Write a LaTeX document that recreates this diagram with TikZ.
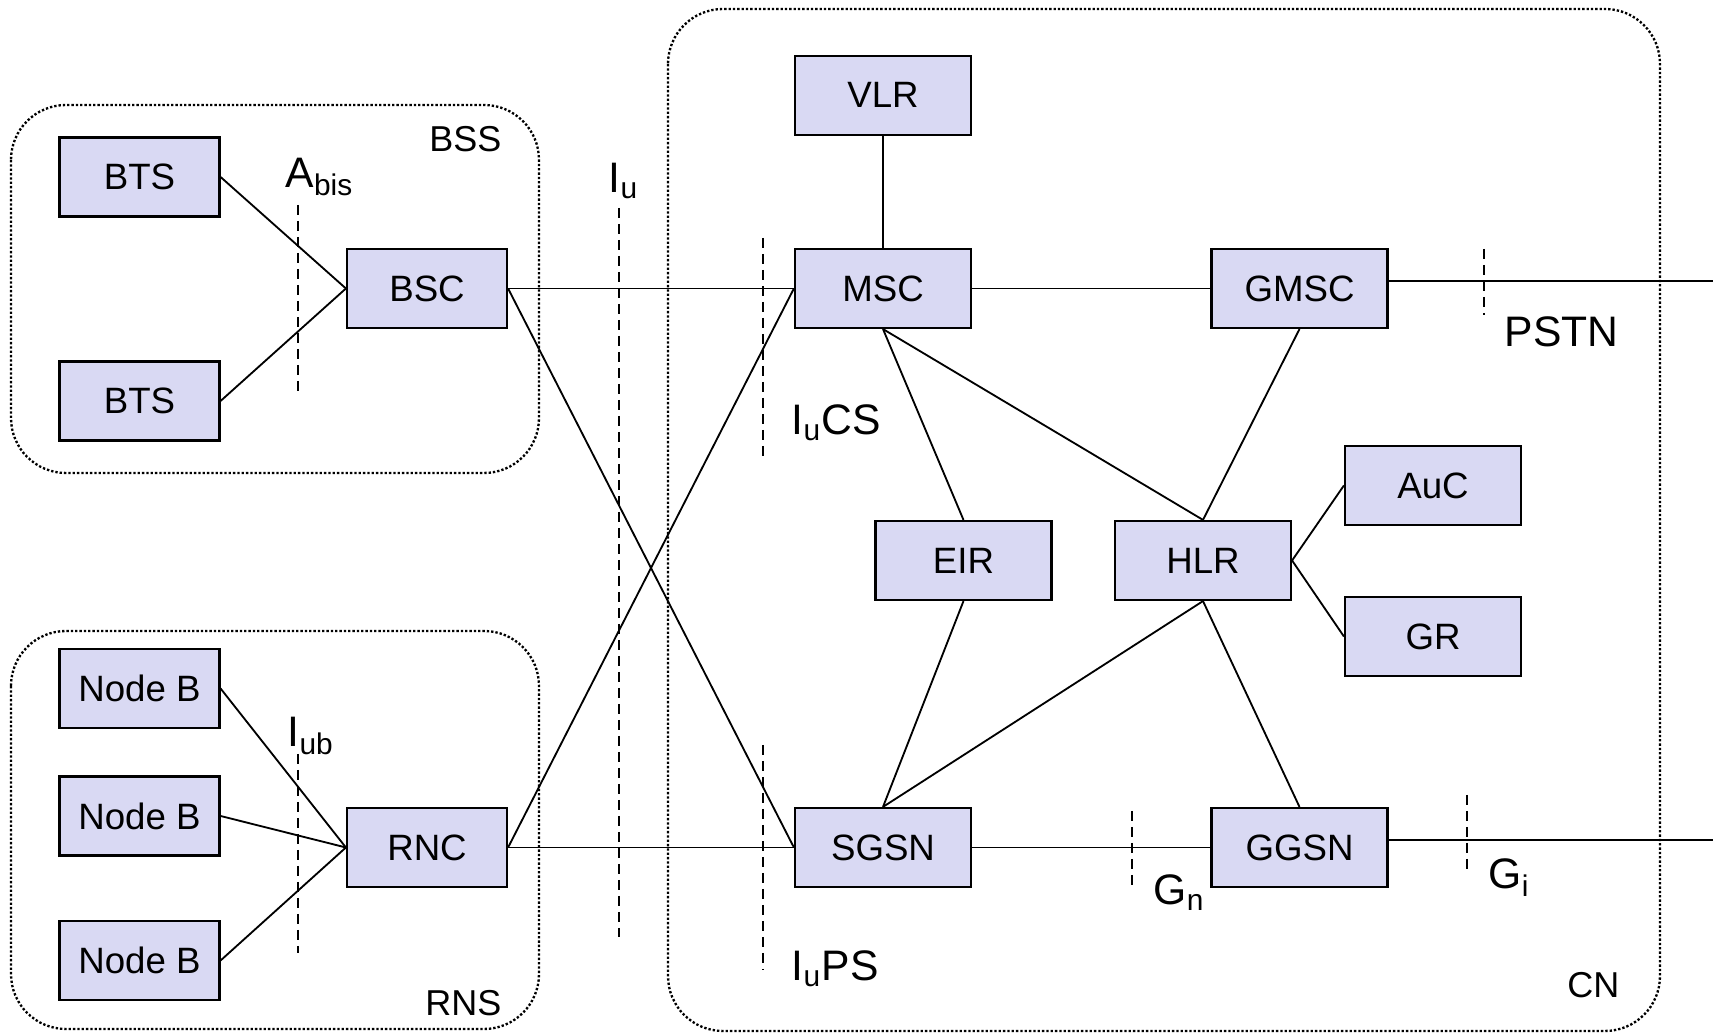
\documentclass[tikz,border=0pt]{standalone}
\usepackage{fontspec}
\setmainfont{Liberation Sans}
\usetikzlibrary{positioning}
\definecolor{boxfill}{RGB}{217,217,243}

\begin{document}
\begin{tikzpicture}
[
x=0.3pt, y=-0.3pt,
box/.style={draw, fill=boxfill, line width=0.65pt, minimum width=52.8pt, minimum height=23.7pt, inner sep=0pt, font=\fontsize{11}{13}\selectfont},
smallbox/.style={box, minimum width=48pt},
group/.style={line width=0.7pt, dash pattern=on 0.7pt off 0.6pt, rounded corners=16.5pt},
iface/.style={line width=0.5pt, dash pattern=on 3pt off 1.8pt},
link/.style={line width=0.55pt},
texts/.style={inner sep=0pt, font=\fontsize{12.8}{15}\selectfont},
grouptext/.style={inner sep=0pt, font=\fontsize{10.8}{12}\selectfont},
]
\useasboundingbox (0,0) rectangle (1713,1034);

% domains
\draw [group] (11,105) rectangle (539,473);
\draw [group] (11,631) rectangle (539,1029);
\draw [group] (668,9) rectangle (1660,1031);

% access side
\node (bts1) [smallbox] at (139.5,177) {BTS};
\node (bts2) [smallbox] at (139.5,401) {BTS};
\node (bsc) [smallbox] at (427,288.5) {BSC};
\node (nodeb1) [smallbox] at (139.5,688.5) {Node B};
\node (nodeb2) [smallbox] at (139.5,816) {Node B};
\node (nodeb3) [smallbox] at (139.5,960.5) {Node B};
\node (rnc) [smallbox] at (427,847.5) {RNC};

% core network
\node (msc) [box] at (883,288.5) {MSC};
\node (vlr) [box, above=33.6pt of msc] {VLR};
\node (gmsc) [box] at (1299.5,288.5) {GMSC};
\node (eir) [box] at (963.5,560.5) {EIR};
\node (hlr) [box] at (1203,560.5) {HLR};
\node (auc) [box] at (1433,485.5) {AuC};
\node (gr) [box] at (1433,636.5) {GR};
\node (sgsn) [box] at (883,847.5) {SGSN};
\node (ggsn) [box] at (1299.5,847.5) {GGSN};
\coordinate (pstn) at (1713,281);
\coordinate (gi) at (1713,840);

% labels
\node [texts, anchor=base west] at (285,188) {A\textsubscript{bis}};
\node [texts, anchor=base west] at (608,193) {I\textsubscript{u}};
\node [texts, anchor=base west] at (791,435) {I\textsubscript{u}CS};
\node [texts, anchor=base west] at (1504,347) {PSTN};
\node [texts, anchor=base west] at (287,747) {I\textsubscript{ub}};
\node [texts, anchor=base west] at (791,981) {I\textsubscript{u}PS};
\node [texts, anchor=base west] at (1153,905) {G\textsubscript{n}};
\node [texts, anchor=base west] at (1488,889) {G\textsubscript{i}};
\node [grouptext, anchor=base east] at (502,152) {BSS};
\node [grouptext, anchor=base east] at (502,1016) {RNS};
\node [grouptext, anchor=base east] at (1620,998) {CN};

% interfaces
\foreach \x/\ya/\yb in {298/205/393, 619/208/937, 763/238/457, 1484/249/315, 298/754/953, 763/745/970, 1132/811/890, 1467/795/874}
{
\draw [iface] (\x,\ya) -- (\x,\yb);
}

% links
\foreach \a/\b in {bts1/bsc, bts2/bsc, nodeb1/rnc, nodeb2/rnc, nodeb3/rnc, bsc/msc, bsc/sgsn, rnc/msc, rnc/sgsn, msc/gmsc, sgsn/ggsn, hlr/auc, hlr/gr}
{
\draw [link] (\a.east) -- (\b.west);
}
\foreach \a/\b in {vlr/msc, msc/eir, msc/hlr, gmsc/hlr, eir/sgsn, hlr/sgsn, hlr/ggsn}
{
\draw [link] (\a.south) -- (\b.north);
}
\draw [link] (gmsc.east |- pstn) -- (pstn);
\draw [link] (ggsn.east |- gi) -- (gi);
\end{tikzpicture}
\end{document}
